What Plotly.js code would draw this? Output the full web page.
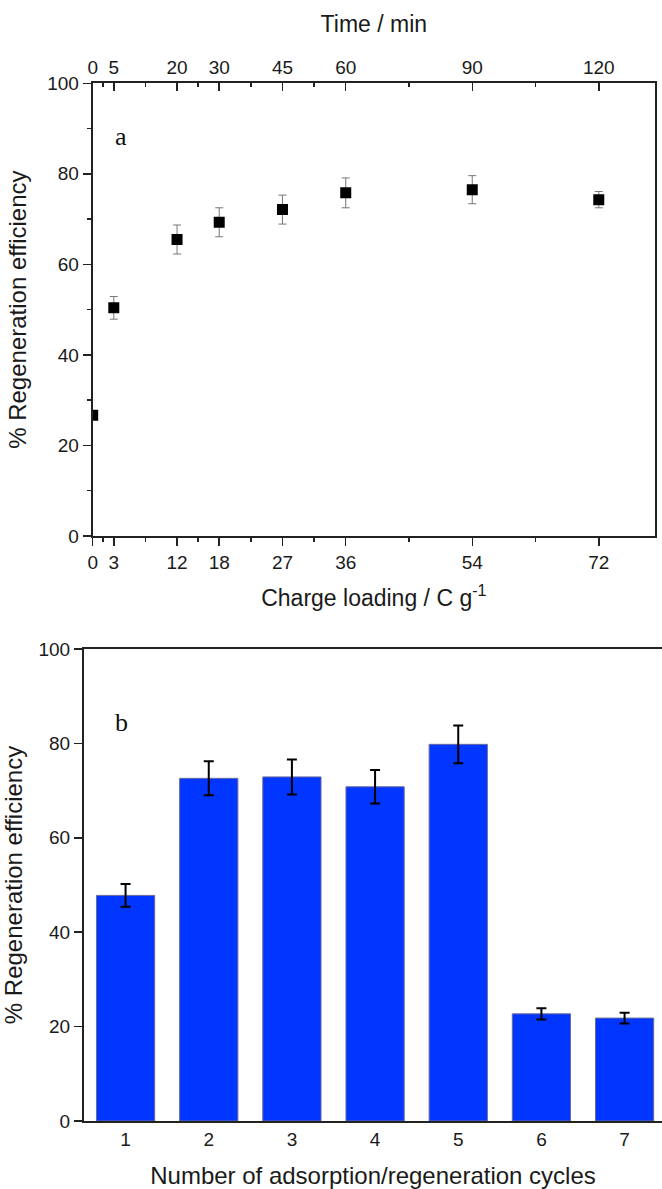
<!DOCTYPE html>
<html>
<head>
<meta charset="utf-8">
<script src="https://cdn.plot.ly/plotly-3.0.1.min.js"></script>
<style>html,body{margin:0;padding:0;background:#fff;}#chart{width:662px;height:1189px;}</style>
</head>
<body>
<div id="chart"></div>
<script>
// Panel a: regeneration efficiency vs charge loading
const chargeLoading = [0, 3, 12, 18, 27, 36, 54, 72];
const efficiencyA = [26.7, 50.4, 65.5, 69.3, 72.1, 75.8, 76.5, 74.3];
const errorA = [1.0, 2.5, 3.2, 3.2, 3.2, 3.3, 3.1, 1.8];
const chargeTicks = [0, 3, 12, 18, 27, 36, 54, 72];
const chargeMinorTicks = [1.5, 7.5, 15, 22.5, 31.5, 45, 63];
const timeTicks = [0, 5, 20, 30, 45, 60, 90, 120];
const timeMinorTicks = [2.5, 12.5, 25, 37.5, 52.5, 75, 105];

// Panel b: regeneration efficiency vs cycle number
const cycles = [1, 2, 3, 4, 5, 6, 7];
const efficiencyB = [47.8, 72.6, 72.9, 70.8, 79.8, 22.7, 21.8];
const errorB = [2.4, 3.6, 3.7, 3.55, 4.0, 1.2, 1.15];

const W = 662, H = 1189;
const font = {family: 'Liberation Sans, Arial, sans-serif', size: 19, color: '#1a1a1a'};
const lineCol = '#222';

const traces = [
  {
    type: 'scatter', mode: 'markers',
    x: chargeLoading, y: efficiencyA,
    xaxis: 'x', yaxis: 'y',
    marker: {symbol: 'square', size: 11, color: '#000'},
    error_y: {type: 'data', array: errorA, visible: true, color: '#777', thickness: 1, width: 4},
    cliponaxis: true, showlegend: false, hoverinfo: 'x+y'
  },
  {
    // carries the top time axis (no marks)
    type: 'scatter', mode: 'markers',
    x: [], y: [],
    xaxis: 'x3', yaxis: 'y',
    showlegend: false, hoverinfo: 'skip'
  },
  {
    type: 'bar',
    x: cycles, y: efficiencyB,
    xaxis: 'x2', yaxis: 'y2',
    width: 0.7,
    marker: {color: '#0036ff', line: {color: '#6a6a9a', width: 1}},
    error_y: {type: 'data', array: errorB, visible: true, color: '#000', thickness: 2, width: 5},
    showlegend: false
  }
];

const px = v => v / W;
const py = v => 1 - v / H;

const layout = {
  width: W, height: H,
  margin: {l: 0, r: 0, t: 0, b: 0},
  paper_bgcolor: '#fff', plot_bgcolor: '#fff',
  font: font,
  showlegend: false,
  xaxis: {
    domain: [px(92.7), px(655)], anchor: 'y',
    range: [0, 80],
    tickmode: 'array', tickvals: chargeTicks,
    ticks: 'outside', ticklen: 8, tickwidth: 1.5, tickcolor: lineCol,
    minor: {tickmode: 'array', tickvals: chargeMinorTicks, ticks: 'outside', ticklen: 4, tickwidth: 1.5, tickcolor: lineCol, showgrid: false},
    showline: true, linecolor: lineCol, linewidth: 2, mirror: false,
    showgrid: false, zeroline: false,
    title: {text: 'Charge loading / C g<sup>-1</sup>', font: {size: 23}, standoff: 18},
    tickfont: {size: 19}
  },
  xaxis3: {
    domain: [px(92.7), px(655)], anchor: 'y', overlaying: 'x', side: 'top',
    range: [0, 80 * 5 / 3],
    tickmode: 'array', tickvals: timeTicks,
    ticks: 'inside', ticklen: 8, tickwidth: 1.5, tickcolor: lineCol,
    minor: {tickmode: 'array', tickvals: timeMinorTicks, ticks: 'inside', ticklen: 4, tickwidth: 1.5, tickcolor: lineCol, showgrid: false},
    showline: true, linecolor: lineCol, linewidth: 2,
    showgrid: false, zeroline: false,
    title: {text: 'Time / min', font: {size: 23}, standoff: 18},
    tickfont: {size: 19}
  },
  yaxis: {
    domain: [py(536), py(83.3)], anchor: 'x',
    range: [0, 100],
    tickmode: 'array', tickvals: [0, 20, 40, 60, 80, 100],
    ticks: 'outside', ticklen: 8, tickwidth: 1.5, tickcolor: lineCol,
    minor: {tickmode: 'array', tickvals: [10, 30, 50, 70, 90], ticks: 'outside', ticklen: 4, tickwidth: 1.5, tickcolor: lineCol, showgrid: false},
    showline: true, linecolor: lineCol, linewidth: 2, mirror: true,
    showgrid: false, zeroline: false,
    title: {text: '% Regeneration efficiency', font: {size: 24}, standoff: 14},
    tickfont: {size: 19}
  },
  xaxis2: {
    domain: [px(84), 1], anchor: 'y2',
    range: [0.5, 7.45],
    tickmode: 'array', tickvals: cycles,
    ticks: '',
    showline: true, linecolor: lineCol, linewidth: 2, mirror: true,
    showgrid: false, zeroline: false,
    title: {text: 'Number of adsorption/regeneration cycles', font: {size: 24}, standoff: 20},
    tickfont: {size: 19}
  },
  yaxis2: {
    domain: [py(1121), py(649)], anchor: 'x2',
    range: [0, 100],
    tickmode: 'array', tickvals: [0, 20, 40, 60, 80, 100],
    ticks: 'outside', ticklen: 8, tickwidth: 1.5, tickcolor: lineCol,
    showline: true, linecolor: lineCol, linewidth: 2, mirror: false,
    showgrid: false, zeroline: false,
    title: {text: '% Regeneration efficiency', font: {size: 24}, standoff: 14},
    tickfont: {size: 19}
  },
  annotations: [
    {text: 'a', xref: 'paper', yref: 'paper', x: px(121), y: py(136), xanchor: 'center', yanchor: 'middle', showarrow: false,
     font: {family: 'Liberation Serif, Times New Roman, serif', size: 26, color: '#111'}},
    {text: 'b', xref: 'paper', yref: 'paper', x: px(121), y: py(722), xanchor: 'center', yanchor: 'middle', showarrow: false,
     font: {family: 'Liberation Serif, Times New Roman, serif', size: 26, color: '#111'}}
  ]
};

Plotly.newPlot('chart', traces, layout, {displayModeBar: false, staticPlot: true});
</script>
</body>
</html>
